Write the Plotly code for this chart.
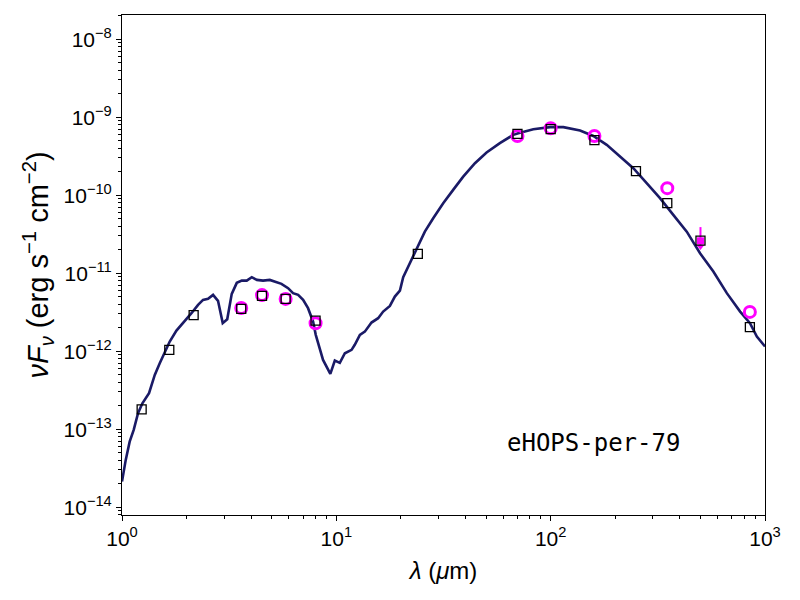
import plotly.graph_objects as go

# model SED (wavelength in micron, nuFnu in erg/s/cm2)
model_wave = [1.00, 1.041, 1.086, 1.134, 1.188, 1.245, 1.337, 1.422, 1.500, 1.582,
              1.670, 1.795, 1.927, 2.109, 2.264, 2.388, 2.521, 2.660, 2.805, 2.951,
              3.097, 3.251, 3.432, 3.621, 3.819, 4.032, 4.256, 4.550, 4.892, 5.260,
              5.546, 5.957, 6.281, 6.634, 6.998, 7.379, 7.792, 8.017, 8.222, 8.670,
              9.376, 9.840, 10.38, 10.96, 11.78, 12.19, 12.88, 13.58, 14.59, 15.67,
              16.54, 17.78, 18.75, 19.80, 20.51, 22.03, 23.66, 25.88, 28.31, 31.52,
              35.08, 39.08, 44.34, 50.23, 57.94, 66.90, 70.63, 82.99, 99.3, 114.6,
              137.1, 158.1, 182.6, 210.6, 243.0, 280.5, 323.6, 373.3, 431.5, 497.7,
              574.1, 663.7, 765.6, 851.1, 916.2, 1000.0]
model_flux = [2.13e-14, 4.04e-14, 6.93e-14, 9.80e-14, 1.60e-13, 2.15e-13, 2.90e-13, 4.97e-13, 7.02e-13, 9.42e-13,
              1.33e-12, 1.84e-12, 2.29e-12, 3.07e-12, 3.93e-12, 4.55e-12, 4.69e-12, 5.27e-12, 4.42e-12, 2.29e-12,
              2.57e-12, 5.43e-12, 7.52e-12, 8.04e-12, 8.04e-12, 8.89e-12, 8.20e-12, 8.04e-12, 8.20e-12, 7.57e-12,
              7.30e-12, 6.43e-12, 5.55e-12, 5.27e-12, 4.55e-12, 3.56e-12, 2.39e-12, 1.62e-12, 1.27e-12, 7.73e-13,
              5.12e-13, 7.57e-13, 7.08e-13, 9.42e-13, 1.04e-12, 1.21e-12, 1.62e-12, 1.78e-12, 2.33e-12, 2.65e-12,
              3.22e-12, 3.81e-12, 5.01e-12, 5.98e-12, 8.89e-12, 1.34e-11, 2.09e-11, 3.41e-11, 5.07e-11, 7.89e-11,
              1.17e-10, 1.73e-10, 2.57e-10, 3.52e-10, 4.65e-10, 5.93e-10, 6.24e-10, 7.02e-10, 7.45e-10, 7.45e-10,
              6.73e-10, 5.75e-10, 4.42e-10, 3.13e-10, 2.22e-10, 1.43e-10, 9.16e-11, 5.59e-11, 3.41e-11, 1.80e-11,
              1.05e-11, 5.55e-12, 3.22e-12, 2.29e-12, 1.54e-12, 1.15e-12]

# model fluxes at the photometric bands (black squares)
band_wave = [1.235, 1.662, 2.159, 3.6, 4.5, 5.8, 8.0, 24.0, 70.0, 100.0, 160.0, 250.0, 350.0, 500.0, 850.0]
band_flux = [1.80e-13, 1.04e-12, 2.90e-12, 3.48e-12, 5.12e-12, 4.68e-12, 2.47e-12, 1.77e-11,
             6.11e-10, 7.02e-10, 5.07e-10, 2.03e-10, 7.89e-11, 2.62e-11, 2.03e-12]

# observed photometry (magenta circles)
obs_wave = [3.6, 4.5, 5.8, 8.0, 70.0, 100.0, 160.0, 350.0, 850.0]
obs_flux = [3.58e-12, 5.24e-12, 4.68e-12, 2.28e-12, 5.75e-10, 7.22e-10, 5.75e-10, 1.23e-10, 3.19e-12]

# upper limit at 500 micron
ulim_wave = [500.0]
ulim_flux = [2.6e-11]
ulim_top = [3.9e-11]
ulim_tip = [2.2e-11]

# axis ticks
x_tickvals = [1, 10, 100, 1000]
x_ticktext = ["10<sup>0</sup>", "10<sup>1</sup>", "10<sup>2</sup>", "10<sup>3</sup>"]
y_tickvals = [1e-14, 1e-13, 1e-12, 1e-11, 1e-10, 1e-9, 1e-8]
y_ticktext = ["10<sup>−14</sup>", "10<sup>−13</sup>", "10<sup>−12</sup>", "10<sup>−11</sup>",
              "10<sup>−10</sup>", "10<sup>−9</sup>", "10<sup>−8</sup>"]

fig = go.Figure()

fig.add_trace(go.Scatter(
    x=model_wave, y=model_flux, mode="lines",
    line=dict(color="#1a1a66", width=2.6),
    showlegend=False,
))

fig.add_trace(go.Scatter(
    x=obs_wave, y=obs_flux, mode="markers",
    marker=dict(symbol="circle-open", size=11, color="#ff00ff", line=dict(width=3, color="#ff00ff")),
    showlegend=False,
))

# upper limit: vertical bar with a down arrow and a filled marker at the value
fig.add_trace(go.Scatter(
    x=ulim_wave * 2, y=ulim_top + ulim_tip, mode="lines",
    line=dict(color="#ff00ff", width=2),
    showlegend=False,
))
fig.add_trace(go.Scatter(
    x=ulim_wave, y=ulim_tip, mode="markers",
    marker=dict(symbol="triangle-down", size=7, color="#ff00ff"),
    showlegend=False,
))
fig.add_trace(go.Scatter(
    x=ulim_wave, y=ulim_flux, mode="markers",
    marker=dict(symbol="square", size=7, color="#ff00ff"),
    showlegend=False,
))

fig.add_trace(go.Scatter(
    x=band_wave, y=band_flux, mode="markers",
    marker=dict(symbol="square-open", size=9, color="black", line=dict(width=1.3, color="black")),
    showlegend=False,
))

fig.add_annotation(
    x=0.734, y=0.144, xref="paper", yref="paper",
    xanchor="center", yanchor="middle",
    text="eHOPS-per-79", showarrow=False,
    font=dict(family="DejaVu Sans Mono", size=24, color="black"),
)

axis_common = dict(
    type="log", showgrid=False, zeroline=False, automargin=False,
    showline=True, linecolor="black", linewidth=1, mirror=True,
    ticks="outside", ticklen=5, tickwidth=1, tickcolor="black",
    tickfont=dict(family="Liberation Sans, Arial", size=21, color="black"),
    minor=dict(ticks="outside", ticklen=3, tickwidth=0.8, tickcolor="black", dtick="D1", showgrid=False),
)

fig.update_xaxes(
    range=[0, 3], tickmode="array", tickvals=x_tickvals, ticktext=x_ticktext,
    title=dict(text="<i>λ</i> (<i>μ</i>m)", font=dict(family="Liberation Sans, Arial", size=24, color="black"), standoff=12),
    **axis_common,
)
fig.update_yaxes(
    range=[-14.1, -7.69], tickmode="array", tickvals=y_tickvals, ticktext=y_ticktext,
    title=dict(text="<i>νF</i><sub><i>ν</i></sub> (erg s<sup>−1</sup> cm<sup>−2</sup>)",
               font=dict(family="Liberation Sans, Arial", size=29, color="black"), standoff=6),
    **axis_common,
)

# page body adds an 8 px offset, so the figure is made 8 px smaller
fig.update_layout(
    width=792, height=592,
    margin=dict(l=114, r=35, t=7, b=85),
    plot_bgcolor="white", paper_bgcolor="white",
)

fig.write_html("out.html")
